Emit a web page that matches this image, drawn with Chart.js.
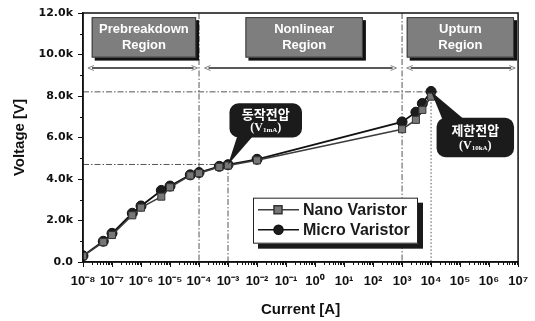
<!DOCTYPE html>
<html>
<head>
<meta charset="utf-8">
<script src="https://cdn.jsdelivr.net/npm/chart.js@4.4.1/dist/chart.umd.min.js"></script>
<style>
  html, body { margin: 0; padding: 0; background: #fff; }
  #wrap { width: 535px; height: 321px; }
</style>
</head>
<body>
<div id="wrap"><canvas id="chart"></canvas></div>
<script>
// data
const currentA = [1e-8, 5e-8, 1e-7, 5e-7, 1e-6, 5e-6, 1e-5, 5e-5, 1e-4, 5e-4, 1e-3, 1e-2, 1e3, 3e3, 5e3, 1e4];
const nanoVoltage = [280, 960, 1300, 2250, 2620, 3150, 3600, 4170, 4280, 4580, 4650, 4900, 6400, 6850, 7330, 7970];
const microVoltage = [300, 1000, 1380, 2350, 2700, 3450, 3660, 4200, 4310, 4610, 4690, 4950, 6750, 7220, 7640, 8220];
const voltageTicks = [0, 2000, 4000, 6000, 8000, 10000, 12000];
const currentDecades = [-8, -7, -6, -5, -4, -3, -2, -1, 0, 1, 2, 3, 4, 5, 6, 7];
const regionNames = [['Prebreakdown', 'Region'], ['Nonlinear', 'Region'], ['Upturn', 'Region']];
const seriesNames = ['Nano Varistor', 'Micro Varistor'];
const vOperating = 4700;   // V1mA guide line
const vClamp = 8200;       // V10kA guide line

const SUP = { '-': '\u207B', '0': '\u2070', '1': '\u00B9', '2': '\u00B2', '3': '\u00B3', '4': '\u2074',
  '5': '\u2075', '6': '\u2076', '7': '\u2077', '8': '\u2078', '9': '\u2079' };
const sup = n => String(n).split('').map(c => SUP[c]).join('');

const pts = vals => currentA.map((x, i) => ({ x: x, y: vals[i] }));

function dashLine(ctx, x1, y1, x2, y2, dash) {
  ctx.save();
  ctx.strokeStyle = '#555';
  ctx.lineWidth = 1;
  ctx.setLineDash(dash);
  ctx.beginPath();
  ctx.moveTo(x1, y1);
  ctx.lineTo(x2, y2);
  ctx.stroke();
  ctx.restore();
}

function arrowLine(ctx, x1, x2, y) {
  ctx.save();
  ctx.strokeStyle = '#222';
  ctx.lineWidth = 1.6;
  ctx.beginPath();
  ctx.moveTo(x1 + 4, y); ctx.lineTo(x2 - 4, y);
  ctx.stroke();
  ctx.lineWidth = 0.8;
  ctx.strokeStyle = '#666';
  ctx.beginPath();
  ctx.moveTo(x1 + 6, y - 2.5); ctx.lineTo(x1, y); ctx.lineTo(x1 + 6, y + 2.5);
  ctx.moveTo(x2 - 6, y - 2.5); ctx.lineTo(x2, y); ctx.lineTo(x2 - 6, y + 2.5);
  ctx.stroke();
  ctx.restore();
}

function regionBox(ctx, x1, x2, y1, y2, lines) {
  ctx.save();
  ctx.fillStyle = '#111';
  ctx.fillRect(x1 + 3, y1 + 3, x2 - x1, y2 - y1);
  ctx.fillStyle = '#7e7e7e';
  ctx.fillRect(x1, y1, x2 - x1, y2 - y1);
  ctx.strokeStyle = '#3a3a3a';
  ctx.lineWidth = 1;
  ctx.strokeRect(x1 + 0.5, y1 + 0.5, x2 - x1 - 1, y2 - y1 - 1);
  ctx.fillStyle = '#fff';
  ctx.font = 'bold 13px "Liberation Sans", Arial, sans-serif';
  ctx.textAlign = 'center';
  ctx.textBaseline = 'middle';
  const cx = (x1 + x2) / 2, cy = (y1 + y2) / 2;
  ctx.fillText(lines[0], cx, cy - 8);
  ctx.fillText(lines[1], cx, cy + 8);
  ctx.restore();
}

function callout(ctx, box, tail, title, sub) {
  ctx.save();
  ctx.fillStyle = '#1b1b1b';
  ctx.beginPath();
  ctx.roundRect(box.x, box.y, box.w, box.h, 9);
  ctx.fill();
  ctx.beginPath();
  ctx.moveTo(tail[0][0], tail[0][1]);
  ctx.lineTo(tail[1][0], tail[1][1]);
  ctx.lineTo(tail[2][0], tail[2][1]);
  ctx.closePath();
  ctx.fill();
  ctx.fillStyle = '#fff';
  ctx.textAlign = 'center';
  ctx.textBaseline = 'middle';
  const cx = box.x + box.w / 2;
  ctx.font = 'bold 13px "Noto Sans CJK KR", sans-serif';
  ctx.fillText(title, cx, box.y + box.h * 0.32);
  // (V sub) with subscript
  const y2 = box.y + box.h * 0.72;
  const big = 'bold 12px "Liberation Serif", serif';
  const small = 'bold 7px "Liberation Serif", serif';
  ctx.font = big;
  const wA = ctx.measureText('(V').width, wC = ctx.measureText(')').width;
  ctx.font = small;
  const wB = ctx.measureText(sub).width;
  let x = cx - (wA + wB + wC) / 2;
  ctx.textAlign = 'left';
  ctx.font = big; ctx.fillText('(V', x, y2); x += wA;
  ctx.font = small; ctx.fillText(sub, x, y2 + 2); x += wB;
  ctx.font = big; ctx.fillText(')', x, y2);
  ctx.restore();
}

const decorations = {
  id: 'decorations',
  beforeDatasetsDraw(chart) {
    const { ctx, chartArea: a, scales: { x, y } } = chart;
    const dd = [6, 2, 1.5, 2];
    const xOp = x.getPixelForValue(1e-3), xBr = x.getPixelForValue(1e-4);
    const xUp = x.getPixelForValue(1e3), xCl = x.getPixelForValue(1e4);
    const yOp = y.getPixelForValue(vOperating), yCl = y.getPixelForValue(vClamp);
    dashLine(ctx, a.left, yCl, x.getPixelForValue(Math.pow(10, 4.3)), yCl, dd);
    dashLine(ctx, a.left, yOp, xOp, yOp, dd);
    dashLine(ctx, xBr, a.top, xBr, a.bottom, dd);
    dashLine(ctx, xUp, a.top, xUp, a.bottom, dd);
    dashLine(ctx, xOp, yOp, xOp, a.bottom, dd);
    dashLine(ctx, xCl, yCl, xCl, a.bottom, [1.5, 2]);

    // region labels and spans
    const px = e => x.getPixelForValue(Math.pow(10, e));
    const yTop = y.getPixelForValue(11800), yBot = y.getPixelForValue(9850);
    regionBox(ctx, px(-7.7), px(-4.1), yTop, yBot, regionNames[0]);
    regionBox(ctx, px(-2.4), px(1.65), yTop, yBot, regionNames[1]);
    regionBox(ctx, px(3.16), px(6.86), yTop, yBot, regionNames[2]);
    const yArr = y.getPixelForValue(9350);
    arrowLine(ctx, px(-7.83), px(-4.05), yArr);
    arrowLine(ctx, px(-3.81), px(2.81), yArr);
    arrowLine(ctx, px(3.16), px(6.9), yArr);
  },
  afterDatasetsDraw(chart) {
    const { ctx, chartArea: a, scales: { x, y } } = chart;
    // frame
    ctx.save();
    ctx.strokeStyle = '#111';
    ctx.lineWidth = 1.5;
    ctx.strokeRect(a.left, a.top, a.right - a.left, a.bottom - a.top);
    // minor ticks
    ctx.lineWidth = 1;
    ctx.beginPath();
    for (let v = 1000; v < 12000; v += 2000) {
      const py = Math.round(y.getPixelForValue(v)) + 0.5;
      ctx.moveTo(a.left, py); ctx.lineTo(a.left - 3, py);
    }
    for (let e = -8; e < 7; e++) {
      for (let k = 2; k <= 9; k++) {
        const pxv = Math.round(x.getPixelForValue(k * Math.pow(10, e))) + 0.5;
        ctx.moveTo(pxv, a.bottom); ctx.lineTo(pxv, a.bottom + 3);
      }
    }
    ctx.stroke();
    ctx.restore();

    // callouts
    const p1 = [x.getPixelForValue(1e-3), y.getPixelForValue(4690)];
    const b1 = { x: x.getPixelForValue(Math.pow(10, -2.95)), y: y.getPixelForValue(7650) };
    b1.w = x.getPixelForValue(Math.pow(10, -0.45)) - b1.x;
    b1.h = y.getPixelForValue(6000) - b1.y;
    callout(ctx, b1, [[b1.x + 8, b1.y + b1.h - 2], [b1.x + 24, b1.y + b1.h - 2], p1], '\uB3D9\uC791\uC804\uC555', '1mA');

    const p2 = [x.getPixelForValue(1e4), y.getPixelForValue(8220)];
    const b2 = { x: x.getPixelForValue(Math.pow(10, 4.19)), y: y.getPixelForValue(6950) };
    b2.w = x.getPixelForValue(Math.pow(10, 6.86)) - b2.x;
    b2.h = y.getPixelForValue(5050) - b2.y;
    callout(ctx, b2, [[b2.x + 6, b2.y + 2], [b2.x + 28, b2.y + 2], p2], '\uC81C\uD55C\uC804\uC555', '10kA');

    // legend
    const lx = a.left + 170, ly = y.getPixelForValue(3100), lw = 165, lh = 46;
    ctx.save();
    ctx.fillStyle = '#1a1a1a';
    ctx.fillRect(lx + 5, ly + 5, lw, lh);
    ctx.fillStyle = '#fff';
    ctx.fillRect(lx, ly, lw, lh);
    ctx.strokeStyle = '#222';
    ctx.lineWidth = 1;
    ctx.strokeRect(lx + 0.5, ly + 0.5, lw - 1, lh - 1);
    const ds = chart.data.datasets;
    [ly + 12, ly + 32].forEach((ry, i) => {
      const d = ds[i];
      ctx.strokeStyle = d.borderColor;
      ctx.lineWidth = 1.5;
      ctx.beginPath();
      ctx.moveTo(lx + 5, ry); ctx.lineTo(lx + 46, ry);
      ctx.stroke();
      ctx.fillStyle = d.pointBackgroundColor;
      ctx.strokeStyle = d.pointBorderColor;
      ctx.beginPath();
      if (d.pointStyle === 'rect') ctx.rect(lx + 21, ry - 4, 8, 8);
      else ctx.arc(lx + 25.5, ry, 4.5, 0, Math.PI * 2);
      ctx.fill(); ctx.stroke();
      ctx.fillStyle = '#1a1a1a';
      ctx.font = 'bold 16px "Liberation Sans", Arial, sans-serif';
      ctx.textBaseline = 'middle';
      ctx.textAlign = 'left';
      ctx.fillText(d.label, lx + 50, ry + 1);
    });
    ctx.restore();
  }
};

new Chart(document.getElementById('chart'), {
  type: 'scatter',
  data: {
    datasets: [{
      label: seriesNames[0],
      data: pts(nanoVoltage),
      showLine: true,
      borderColor: '#3c3c3c',
      borderWidth: 1.5,
      pointStyle: 'rect',
      pointRadius: 5,
      pointBackgroundColor: '#777',
      pointBorderColor: '#333',
      pointBorderWidth: 1
    }, {
      label: seriesNames[1],
      data: pts(microVoltage),
      showLine: true,
      borderColor: '#111',
      borderWidth: 1.8,
      pointStyle: 'circle',
      pointRadius: 5,
      pointBackgroundColor: '#1c1c1c',
      pointBorderColor: '#111',
      pointBorderWidth: 1
    }]
  },
  options: {
    responsive: true,
    maintainAspectRatio: false,
    animation: false,
    layout: { padding: { left: 0, right: 15, top: 13, bottom: 0 } },
    plugins: { legend: { display: false }, tooltip: { enabled: false } },
    scales: {
      x: {
        type: 'logarithmic',
        min: 1e-8,
        max: 1e7,
        afterBuildTicks: s => { s.ticks = currentDecades.map(e => ({ value: Math.pow(10, e) })); },
        afterFit: s => { s.height = 59; },
        ticks: {
          autoSkip: false,
          maxRotation: 0,
          padding: 7,
          color: '#111',
          font: { family: '"Liberation Sans", Arial', size: 13, weight: 'bold' },
          callback: v => '10' + sup(Math.round(Math.log10(v)))
        },
        grid: { drawOnChartArea: false, tickLength: 5, color: '#111', lineWidth: 1 },
        border: { color: '#111', width: 1.5 },
        title: {
          display: true, text: 'Current [A]', color: '#111',
          font: { family: '"Liberation Sans", Arial', size: 15, weight: 'bold' },
          padding: { top: 0, bottom: 2 }
        }
      },
      y: {
        min: 0,
        max: 12000,
        afterBuildTicks: s => { s.ticks = voltageTicks.map(v => ({ value: v })); },
        afterFit: s => { s.width = 83; },
        ticks: {
          padding: 5,
          color: '#111',
          font: { family: '"DejaVu Sans"', size: 11, weight: 'bold' },
          callback: v => v === 0 ? '0.0' : (v / 1000).toFixed(1) + 'k'
        },
        grid: { drawOnChartArea: false, tickLength: 5, color: '#111', lineWidth: 1 },
        border: { color: '#111', width: 1.5 },
        title: {
          display: true, text: 'Voltage [V]', color: '#111',
          font: { family: '"Liberation Sans", Arial', size: 15, weight: 'bold' },
          padding: { top: 11, bottom: 0 }
        }
      }
    }
  },
  plugins: [decorations]
});
</script>
</body>
</html>
